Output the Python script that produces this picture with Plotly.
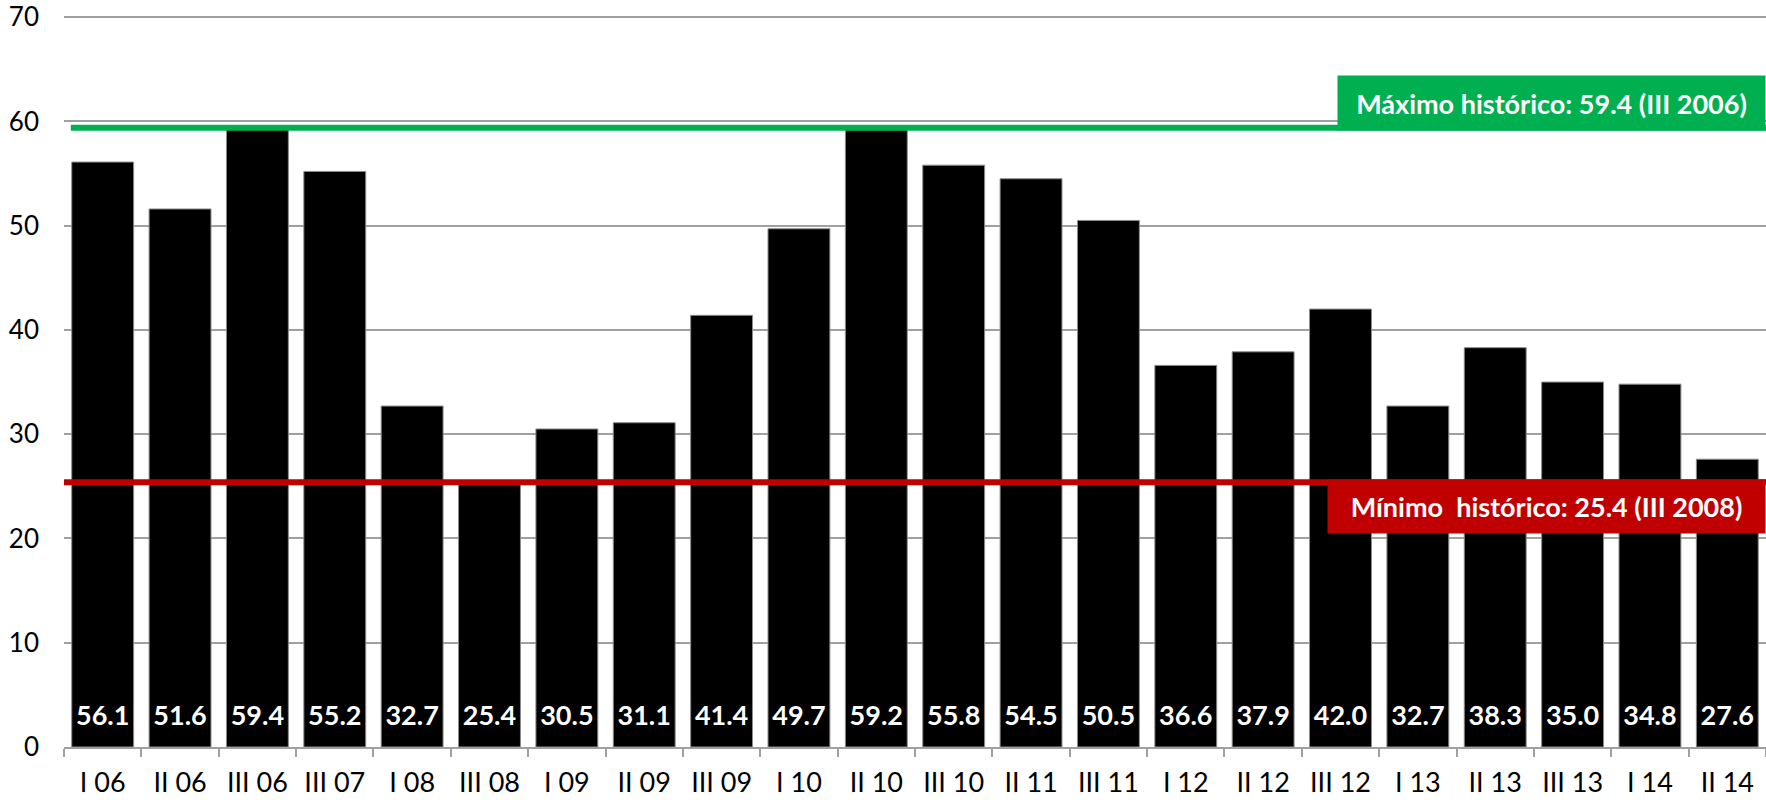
import plotly.graph_objects as go

categories = ["I 06", "II 06", "III 06", "III 07", "I 08", "III 08", "I 09", "II 09",
              "III 09", "I 10", "II 10", "III 10", "II 11", "III 11", "I 12", "II 12",
              "III 12", "I 13", "II 13", "III 13", "I 14", "II 14"]
values = [56.1, 51.6, 59.4, 55.2, 32.7, 25.4, 30.5, 31.1, 41.4, 49.7, 59.2, 55.8,
          54.5, 50.5, 36.6, 37.9, 42.0, 32.7, 38.3, 35.0, 34.8, 27.6]
max_value = 59.4
min_value = 25.4
max_label = "Máximo histórico: 59.4 (III 2006)"
min_label = "Mínimo  histórico: 25.4 (III 2008)"
y_ticks = [0, 10, 20, 30, 40, 50, 60, 70]

FONT = "Lato, 'Open Sans', sans-serif"
label_y = 2.8  # vertical position of in-bar value labels

fig = go.Figure()
fig.add_trace(go.Bar(
    x=categories, y=values,
    marker=dict(color="#000000", line=dict(color="#8c8c8c", width=1)),
    hoverinfo="x+y",
))
fig.add_trace(go.Scatter(
    x=categories, y=[label_y] * len(categories),
    mode="text", text=[f"{v:.1f}" for v in values],
    textfont=dict(family=FONT, size=27, color="white", weight="bold"),
    hoverinfo="skip", showlegend=False, cliponaxis=False,
))

fig.add_shape(type="line", xref="paper", yref="y", x0=0.004, x1=1, y0=max_value, y1=max_value,
              line=dict(color="#00B050", width=6), layer="above")
fig.add_shape(type="line", xref="paper", yref="y", x0=0, x1=1, y0=min_value, y1=min_value,
              line=dict(color="#C00000", width=6), layer="above")

fig.add_annotation(xref="paper", yref="y", x=1, y=max_value, xanchor="right", yanchor="bottom",
                   yshift=-3, text=max_label, showarrow=False, bgcolor="#00B050",
                   width=427, height=54, borderpad=0, align="center",
                   font=dict(family=FONT, size=27, color="white", weight="bold"))
fig.add_annotation(xref="paper", yref="y", x=1, y=min_value, xanchor="right", yanchor="top",
                   yshift=3, text=min_label, showarrow=False, bgcolor="#C00000",
                   width=437, height=53, borderpad=0, align="center",
                   font=dict(family=FONT, size=27, color="white", weight="bold"))

fig.update_layout(
    width=1766, height=802,
    margin=dict(l=64, r=0, t=14, b=55),
    paper_bgcolor="white", plot_bgcolor="white",
    showlegend=False, bargap=0.2,
    font=dict(family=FONT, size=27, color="#000000"),
)
fig.update_xaxes(
    type="category", range=[-0.5, len(categories) - 0.5], automargin=False,
    showgrid=False, showline=True, linecolor="#A0A0A0", linewidth=2,
    ticks="outside", tickson="boundaries", ticklen=8, tickcolor="#A0A0A0", tickwidth=2,
    tickfont=dict(family=FONT, size=27, color="#000000"), ticklabelstandoff=11,
    ticklabeloverflow="allow",
)
fig.update_yaxes(
    range=[0, 70.3], tickvals=y_ticks, automargin=False,
    showgrid=True, gridcolor="#A0A0A0", gridwidth=2,
    zeroline=False, showline=False, ticks="", ticklabelstandoff=24,
    tickfont=dict(family=FONT, size=26, color="#000000"),
    ticklabeloverflow="allow",
)

fig.write_html("out.html", config={"displayModeBar": False},
               post_script="document.body.style.margin='0';document.body.style.overflow='hidden';")
